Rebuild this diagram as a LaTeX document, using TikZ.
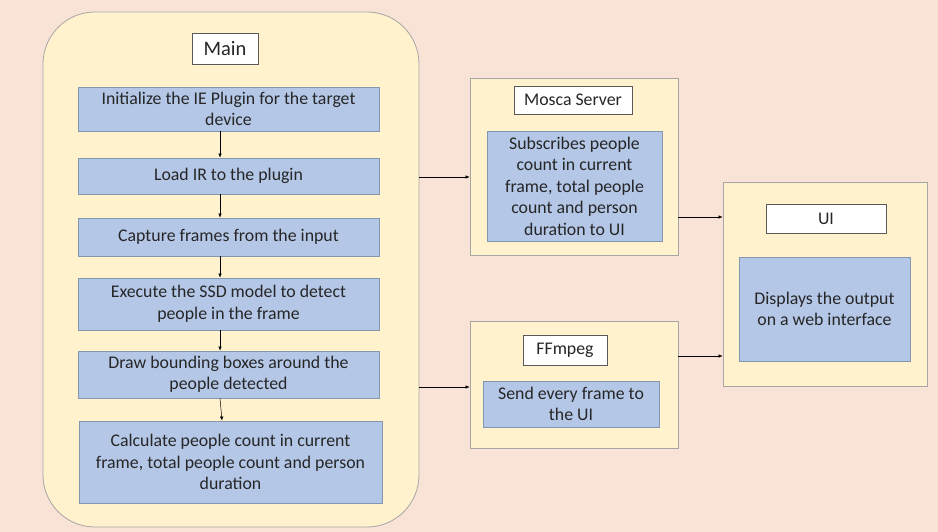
\documentclass[tikz,border=0pt]{standalone}
\usepackage{fontspec}
\setmainfont{Carlito}
\usetikzlibrary{arrows.meta}
\definecolor{bgc}{HTML}{F9E3D6}
\definecolor{yel}{HTML}{FFF2CC}
\definecolor{blu}{HTML}{B4C7E7}
\definecolor{bluedge}{HTML}{8496B0}
\definecolor{outedge}{HTML}{A6A6A6}
\definecolor{txt}{HTML}{262626}
\tikzset{
  outer/.style={draw=outedge, fill=yel, line width=0.8pt, inner sep=0pt},
  titlebox/.style={draw=gray!70!black, fill=white, line width=0.6pt, inner sep=0pt, text=txt, font=\fontsize{17.8}{21}\selectfont, align=center},
  bluebox/.style={draw=bluedge, fill=blu, line width=0.8pt, inner sep=0pt, align=center, text=txt, font=\fontsize{17.8}{21.5}\selectfont},
  arr/.style={-{Latex[length=4pt,width=3.5pt]}, line width=0.5pt, black}
}
\begin{document}
\begin{tikzpicture}[x=1pt,y=-1pt]
\fill[bgc] (0,0) rectangle (938,532);
\useasboundingbox (0,0) rectangle (938,532);
% Main
\node[outer, rounded corners=52pt, minimum width=376pt, minimum height=515pt] (main) at (231,269.5) {};
\node[titlebox, minimum width=66pt, minimum height=31pt, font=\fontsize{20.5}{24}\selectfont] (maint) at (225,48.5) {Main};
\node[bluebox, minimum width=301pt, minimum height=44pt] (b1) at (228.5,109) {Initialize the IE Plugin for the target\\device};
\node[bluebox, minimum width=301pt, minimum height=36pt] (b2) at (228.5,176) {Load IR to the plugin};
\node[bluebox, minimum width=301pt, minimum height=38pt] (b3) at (228.5,237) {Capture frames from the input};
\node[bluebox, minimum width=301pt, minimum height=52pt] (b4) at (228.5,304) {Execute the SSD model to detect\\people in the frame};
\node[bluebox, minimum width=301pt, minimum height=47pt] (b5) at (228.5,374.5) {Draw bounding boxes around the\\people detected};
\node[bluebox, minimum width=303pt, minimum height=82pt] (b6) at (230.5,462) {Calculate people count in current\\frame, total people count and person\\duration};
% Mosca
\node[outer, minimum width=208pt, minimum height=177pt] (mosca) at (574,166.5) {};
\node[titlebox, minimum width=118pt, minimum height=28pt] (moscat) at (573,100) {Mosca Server};
\node[bluebox, minimum width=175pt, minimum height=110pt] (moscab) at (574.5,186) {Subscribes people\\count in current\\frame, total people\\count and person\\duration to UI};
% FFmpeg
\node[outer, minimum width=208pt, minimum height=127pt] (ff) at (574,384.5) {};
\node[titlebox, minimum width=84pt, minimum height=30pt] (fft) at (565,350) {FFmpeg};
\node[bluebox, minimum width=176pt, minimum height=46pt] (ffb) at (571,404) {Send every frame to\\the UI};
% UI
\node[outer, minimum width=204pt, minimum height=204pt] (ui) at (825,284) {};
\node[titlebox, minimum width=120pt, minimum height=29pt] (uit) at (826,218.5) {UI};
\node[bluebox, minimum width=171pt, minimum height=104pt] (uib) at (824.5,309) {Displays the output\\on a web interface};
% arrows inside main
\foreach \a/\b in {b1/b2,b2/b3,b3/b4,b4/b5,b5/b6}{
  \draw[arr] ([xshift=-8.5pt]\a.south) -- ([xshift=-8.5pt]\b.north);
}
\draw[arr] (main.east |- 0,177) -- (mosca.west |- 0,177);
\draw[arr] (main.east |- 0,387) -- (ff.west |- 0,387);
\draw[arr] (mosca.east |- 0,217) -- (ui.west |- 0,217);
\draw[arr] (ff.east |- 0,356) -- (ui.west |- 0,356);
\end{tikzpicture}
\end{document}
